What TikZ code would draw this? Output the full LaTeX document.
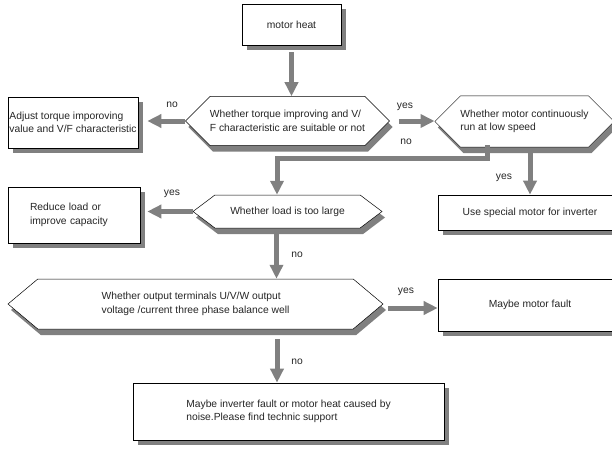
\documentclass[tikz,border=0pt]{standalone}
\usepackage{fontspec}
\setmainfont{Liberation Sans}
\usetikzlibrary{shapes.symbols,shadows,arrows.meta}
\definecolor{arrowgray}{RGB}{128,128,128}
\tikzset{
  every node/.style={font=\fontsize{10.3}{13.5}\selectfont,text=black!85},
  boxnode/.style={draw=black,line width=0.6pt,fill=white,inner sep=0pt,
    drop shadow={shadow xshift=5pt,shadow yshift=-5pt,fill=arrowgray,opacity=1}},
  asknode/.style={shape=signal,signal to=west and east,signal pointer angle=90,
    draw=black,line width=0.5pt,fill=white,inner sep=0pt,align=left,
    drop shadow={shadow xshift=3pt,shadow yshift=-6pt,fill=arrowgray,opacity=1}},
  flow/.style={draw=arrowgray,line width=5pt,-{Triangle[width=13pt,length=14pt]}},
  lbl/.style={anchor=base,inner sep=0pt}
}
\begin{document}
\begin{tikzpicture}[x=1pt,y=1pt]
\useasboundingbox (0,0) rectangle (612,448);
% boxes:
\node[boxnode,minimum width=99pt,minimum height=41pt] (heat) at (291.5,423.5) {motor heat};
\node[boxnode,minimum width=130pt,minimum height=51pt,align=left] (adjust) at (73,325.5) {Adjust torque imporoving\\value and V/F characteristic};
\node[boxnode,minimum width=132pt,minimum height=56pt,text width=88pt,inner xsep=22pt,align=left] (reduce) at (74,233) {Reduce load or\\improve capacity};
\node[boxnode,minimum width=184pt,minimum height=35pt] (special) at (530,235.5) {Use special motor for inverter};
\node[boxnode,minimum width=184pt,minimum height=52pt] (fault) at (530,143) {Maybe motor fault};
\node[boxnode,minimum width=311pt,minimum height=57pt,align=left] (final) at (288.5,36.5) {Maybe inverter fault or motor heat caused by\\noise.Please find technic support};
% decisions:
\node[asknode,minimum width=189pt,minimum height=49pt] (h1) at (287.5,327) {Whether torque improving and V/\\F characteristic are suitable or not};
\node[asknode,minimum width=175pt,minimum height=51pt] (h2) at (524.5,326.5) {Whether motor continuously\\run at low speed};
\node[asknode,signal pointer angle=74,minimum width=189pt,minimum height=33pt] (h3) at (287.5,236.5) {Whether load is too large};
\node[asknode,signal pointer angle=80,minimum width=375pt,minimum height=50pt] (h4) at (195.5,144) {Whether output terminals U/V/W output\\voltage /current three phase balance well};
\coordinate (bend) at (277,290);
% arrows:
\draw[flow,shorten <=7pt] (heat.south) -- (heat.south |- h1.north);
\draw[flow,shorten >=9pt] (h1.west) -- (h1.west -| adjust.east);
\draw[flow,shorten <=9pt] (h1.east) -- (h1.east -| h2.west);
\draw[flow] ([xshift=-37.5pt,yshift=2pt]h2.south) |- (bend) -- (bend |- h3.north);
\draw[flow,shorten <=5pt] (special.north |- h2.south) -- (special.north);
\draw[flow,shorten >=7pt] (h3.west) -- (h3.west -| reduce.east);
\draw[flow,shorten <=6pt] ([xshift=-11pt]h3.south) -- ([xshift=-11pt]h3.south |- h4.north);
\draw[flow,shorten <=5pt] ([yshift=-4pt]h4.east) -- ([yshift=-4pt]h4.east -| fault.west);
\draw[flow,shorten <=10pt] ([xshift=-11.5pt]final.north |- h4.south) -- ([xshift=-11.5pt]final.north);
% labels:
\node[lbl] (no1) at (172,341) {no};
\node[lbl] (yes1) at (405,340) {yes};
\node[lbl] (no2) at (406,304) {no};
\node[lbl] (yes2) at (504,269) {yes};
\node[lbl] (yes3) at (172,253) {yes};
\node[lbl] (no3) at (297,191) {no};
\node[lbl] (yes4) at (406,155) {yes};
\node[lbl] (no4) at (297,84) {no};
\end{tikzpicture}
\end{document}
